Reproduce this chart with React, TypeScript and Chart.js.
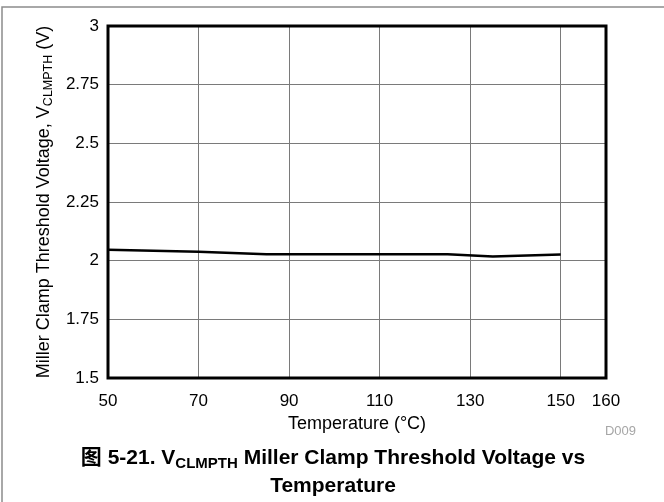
import React, { useEffect, useRef } from "react";
import { Chart, registerables } from "chart.js";

Chart.register(...registerables);

const temperatures = [50, 70, 85, 110, 125, 135, 150];
const thresholdVoltage = [2.047, 2.038, 2.027, 2.027, 2.027, 2.018, 2.026];
const xTickValues = [50, 70, 90, 110, 130, 150, 160];
const yTickValues = [1.5, 1.75, 2, 2.25, 2.5, 2.75, 3];

const yTitleMain = "Miller Clamp Threshold Voltage, V";
const yTitleSub = "CLMPTH";
const yTitleEnd = " (V)";
const xTitle = "Temperature (°C)";
const figId = "D009";
const captionPre = "图 5-21. V";
const captionSub = "CLMPTH";
const captionPost = " Miller Clamp Threshold Voltage vs";
const captionLine2 = "Temperature";

const FONT = '"Liberation Sans", Arial, Helvetica, sans-serif';
const CJK_FONT = '"Liberation Sans", "Noto Sans CJK SC", Arial, sans-serif';

const decorPlugin = {
  id: "decor",
  beforeDraw(chart: any) {
    const ctx = chart.ctx;
    ctx.save();
    ctx.fillStyle = "#fff";
    ctx.fillRect(0, 0, chart.width, chart.height);
    ctx.strokeStyle = "#8c8c8c";
    ctx.lineWidth = 1.5;
    ctx.beginPath();
    ctx.moveTo(2, chart.height);
    ctx.lineTo(2, 7);
    ctx.lineTo(chart.width, 7);
    ctx.stroke();
    ctx.restore();
  },
  afterDraw(chart: any) {
    const ctx = chart.ctx;
    const a = chart.chartArea;
    ctx.save();
    // plot frame
    ctx.strokeStyle = "#000";
    ctx.lineWidth = 3;
    ctx.strokeRect(a.left, a.top, a.right - a.left, a.bottom - a.top);

    // y title (rotated with subscript)
    const mainFont = `18px ${FONT}`;
    const subFont = `12.5px ${FONT}`;
    ctx.font = mainFont;
    const w1 = ctx.measureText(yTitleMain).width;
    const w3 = ctx.measureText(yTitleEnd).width;
    ctx.font = subFont;
    const w2 = ctx.measureText(yTitleSub).width;
    const total = w1 + w2 + w3;
    ctx.translate(49, (a.top + a.bottom) / 2);
    ctx.rotate(-Math.PI / 2);
    ctx.fillStyle = "#000";
    ctx.textBaseline = "alphabetic";
    ctx.textAlign = "left";
    let x = -total / 2;
    ctx.font = mainFont;
    ctx.fillText(yTitleMain, x, 0);
    x += w1;
    ctx.font = subFont;
    ctx.fillText(yTitleSub, x, 3);
    x += w2;
    ctx.font = mainFont;
    ctx.fillText(yTitleEnd, x, 0);
    ctx.setTransform(1, 0, 0, 1, 0, 0);

    // x title
    ctx.font = `18px ${FONT}`;
    ctx.textAlign = "center";
    ctx.fillText(xTitle, (a.left + a.right) / 2, 429);

    // figure id
    ctx.font = `13px ${FONT}`;
    ctx.fillStyle = "#a6a6a6";
    ctx.textAlign = "right";
    ctx.fillText(figId, 636, 435);

    // caption
    ctx.fillStyle = "#000";
    ctx.textAlign = "left";
    const capFont = `bold 21px ${CJK_FONT}`;
    const capSubFont = `bold 15px ${CJK_FONT}`;
    ctx.font = capFont;
    const c1 = ctx.measureText(captionPre).width;
    const c3 = ctx.measureText(captionPost).width;
    ctx.font = capSubFont;
    const c2 = ctx.measureText(captionSub).width;
    const cx = 333;
    let px = cx - (c1 + c2 + c3) / 2;
    ctx.font = capFont;
    ctx.fillText(captionPre, px, 464);
    px += c1;
    ctx.font = capSubFont;
    ctx.fillText(captionSub, px, 468);
    px += c2;
    ctx.font = capFont;
    ctx.fillText(captionPost, px, 464);
    ctx.textAlign = "center";
    ctx.fillText(captionLine2, cx, 492);
    ctx.restore();
  },
};

export default function App() {
  const ref = useRef<HTMLCanvasElement | null>(null);
  useEffect(() => {
    if (!ref.current) return;
    const chart = new Chart(ref.current, {
      type: "line",
      data: {
        datasets: [
          {
            data: temperatures.map((t, i) => ({ x: t, y: thresholdVoltage[i] })),
            borderColor: "#000",
            borderWidth: 2.5,
            pointRadius: 0,
            tension: 0,
            fill: false,
          },
        ],
      },
      options: {
        animation: false,
        responsive: false,
        devicePixelRatio: 1,
        layout: { padding: { left: 0, top: 26, right: 58, bottom: 0 } },
        plugins: { legend: { display: false }, tooltip: { enabled: false } },
        scales: {
          x: {
            type: "linear",
            min: 50,
            max: 160,
            afterBuildTicks: (s: any) => {
              s.ticks = xTickValues.map((v) => ({ value: v }));
            },
            afterFit: (s: any) => {
              s.height = 124;
            },
            ticks: {
              autoSkip: false,
              maxRotation: 0,
              padding: 13,
              color: "#000",
              font: { family: FONT, size: 17 },
              callback: (v: any) => String(v),
            },
            grid: { color: "#7a7a7a", lineWidth: 1, drawTicks: false },
            border: { display: false },
          },
          y: {
            type: "linear",
            min: 1.5,
            max: 3,
            afterBuildTicks: (s: any) => {
              s.ticks = yTickValues.map((v) => ({ value: v }));
            },
            afterFit: (s: any) => {
              s.width = 108;
            },
            ticks: {
              autoSkip: false,
              padding: 9,
              color: "#000",
              font: { family: FONT, size: 17 },
              callback: (v: any) => String(v),
            },
            grid: { color: "#7a7a7a", lineWidth: 1, drawTicks: false },
            border: { display: false },
          },
        },
      },
      plugins: [decorPlugin],
    });
    return () => chart.destroy();
  }, []);
  return (
    <div style={{ position: "absolute", left: 0, top: 0, width: 664, height: 502 }}>
      <canvas ref={ref} width={664} height={502} style={{ width: 664, height: 502, display: "block" }} />
    </div>
  );
}
